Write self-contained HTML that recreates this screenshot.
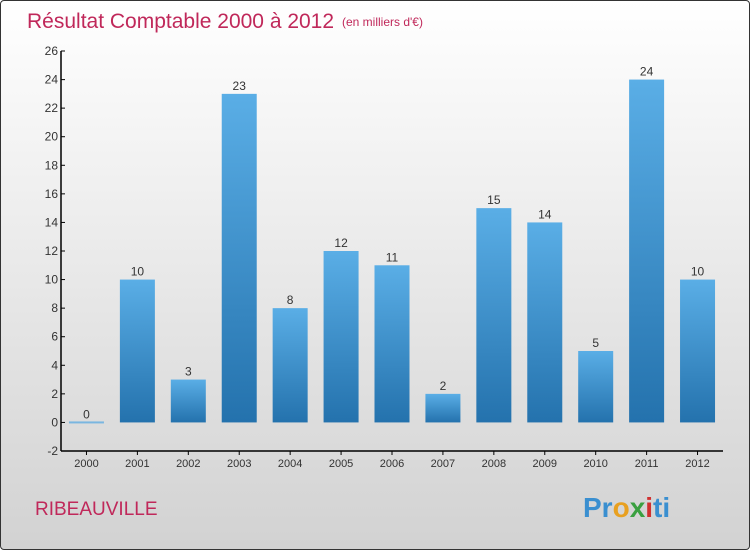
<!DOCTYPE html>
<html><head><meta charset="utf-8"><style>
body{margin:0}
#c{width:750px;height:550px;position:relative;overflow:hidden;box-sizing:border-box;border:1px solid #333;border-radius:4px;background:linear-gradient(#ffffff,#d2d2d2);font-family:"Liberation Sans",sans-serif}
</style></head><body>
<div id="c">
<svg id="s" width="750" height="550">
<defs><linearGradient id="g" x1="0" y1="0" x2="0" y2="1"><stop offset="0" stop-color="#5aaee6"/><stop offset="1" stop-color="#2472ad"/></linearGradient></defs>
<text x="26" y="27" font-size="21" fill="#c0285a">Résultat Comptable 2000 à 2012</text>
<text x="341" y="25" font-size="12" fill="#c0285a">(en milliers d'€)</text>
<text x="34" y="514" font-size="19" fill="#c0285a">RIBEAUVILLE</text>
<text x="582" y="516" font-size="28" font-weight="bold"><tspan fill="#3a8fd0">Pr</tspan><tspan fill="#e8a020">o</tspan><tspan fill="#3aa040">x</tspan><tspan fill="#d03030">i</tspan><tspan fill="#3a8fd0">ti</tspan></text>
<g id="plot"></g>
</svg></div>
<script>
const categories=["2000","2001","2002","2003","2004","2005","2006","2007","2008","2009","2010","2011","2012"];
const values=[0,10,3,23,8,12,11,2,15,14,5,24,10];
const yTicks=[-2,0,2,4,6,8,10,12,14,16,18,20,22,24,26];
const NS="http://www.w3.org/2000/svg";
const g=document.getElementById('plot');
const x0=60,x1=722,yTop=50,yBot=450,vMin=-2,vMax=26;
const band=(x1-x0)/categories.length;
const y=v=>yBot-(v-vMin)/(vMax-vMin)*(yBot-yTop);
const xc=i=>x0+band*(i+0.5);
function mk(t,a){const e=document.createElementNS(NS,t);for(const k in a)e.setAttribute(k,a[k]);g.appendChild(e);return e;}
values.forEach((v,i)=>{
  const bw=35;
  if(v===0){
    const r=mk('rect',{x:xc(i)-bw/2,y:y(0)-1,width:bw,height:2,fill:'#7ab6e0'});
    
    
  } else {
    const top=Math.min(y(v),y(0)),h=Math.abs(y(v)-y(0));
    const r=mk('rect',{x:xc(i)-bw/2,y:top,width:bw,height:h,fill:'url(#g)'});
    
    
  }
  const t=mk('text',{x:xc(i),y:Math.min(y(v),y(0))-4,'text-anchor':'middle','font-size':12,fill:'#333'});
  t.textContent=v;
  
  
  const tk=mk('line',{x1:xc(i),x2:xc(i),y1:yBot,y2:yBot+4,stroke:'#000'});
  
  
  const l=mk('text',{x:xc(i),y:yBot+16,'text-anchor':'middle','font-size':11,fill:'#333'});
  l.textContent=categories[i];
  
  
});
yTicks.forEach(v=>{
  const tk=mk('line',{x1:x0,x2:x0+4,y1:y(v),y2:y(v),stroke:'#000'});
  
  
  const l=mk('text',{x:x0-3,y:y(v)+4,'text-anchor':'end','font-size':12,fill:'#333'});
  l.textContent=v;
  
  
});
const ya=mk('line',{x1:x0,x2:x0,y1:yTop,y2:yBot,stroke:'#000','stroke-width':1.5});


const xa=mk('line',{x1:x0,x2:x1,y1:yBot,y2:yBot,stroke:'#000','stroke-width':1.5});


</script>
</body></html>
